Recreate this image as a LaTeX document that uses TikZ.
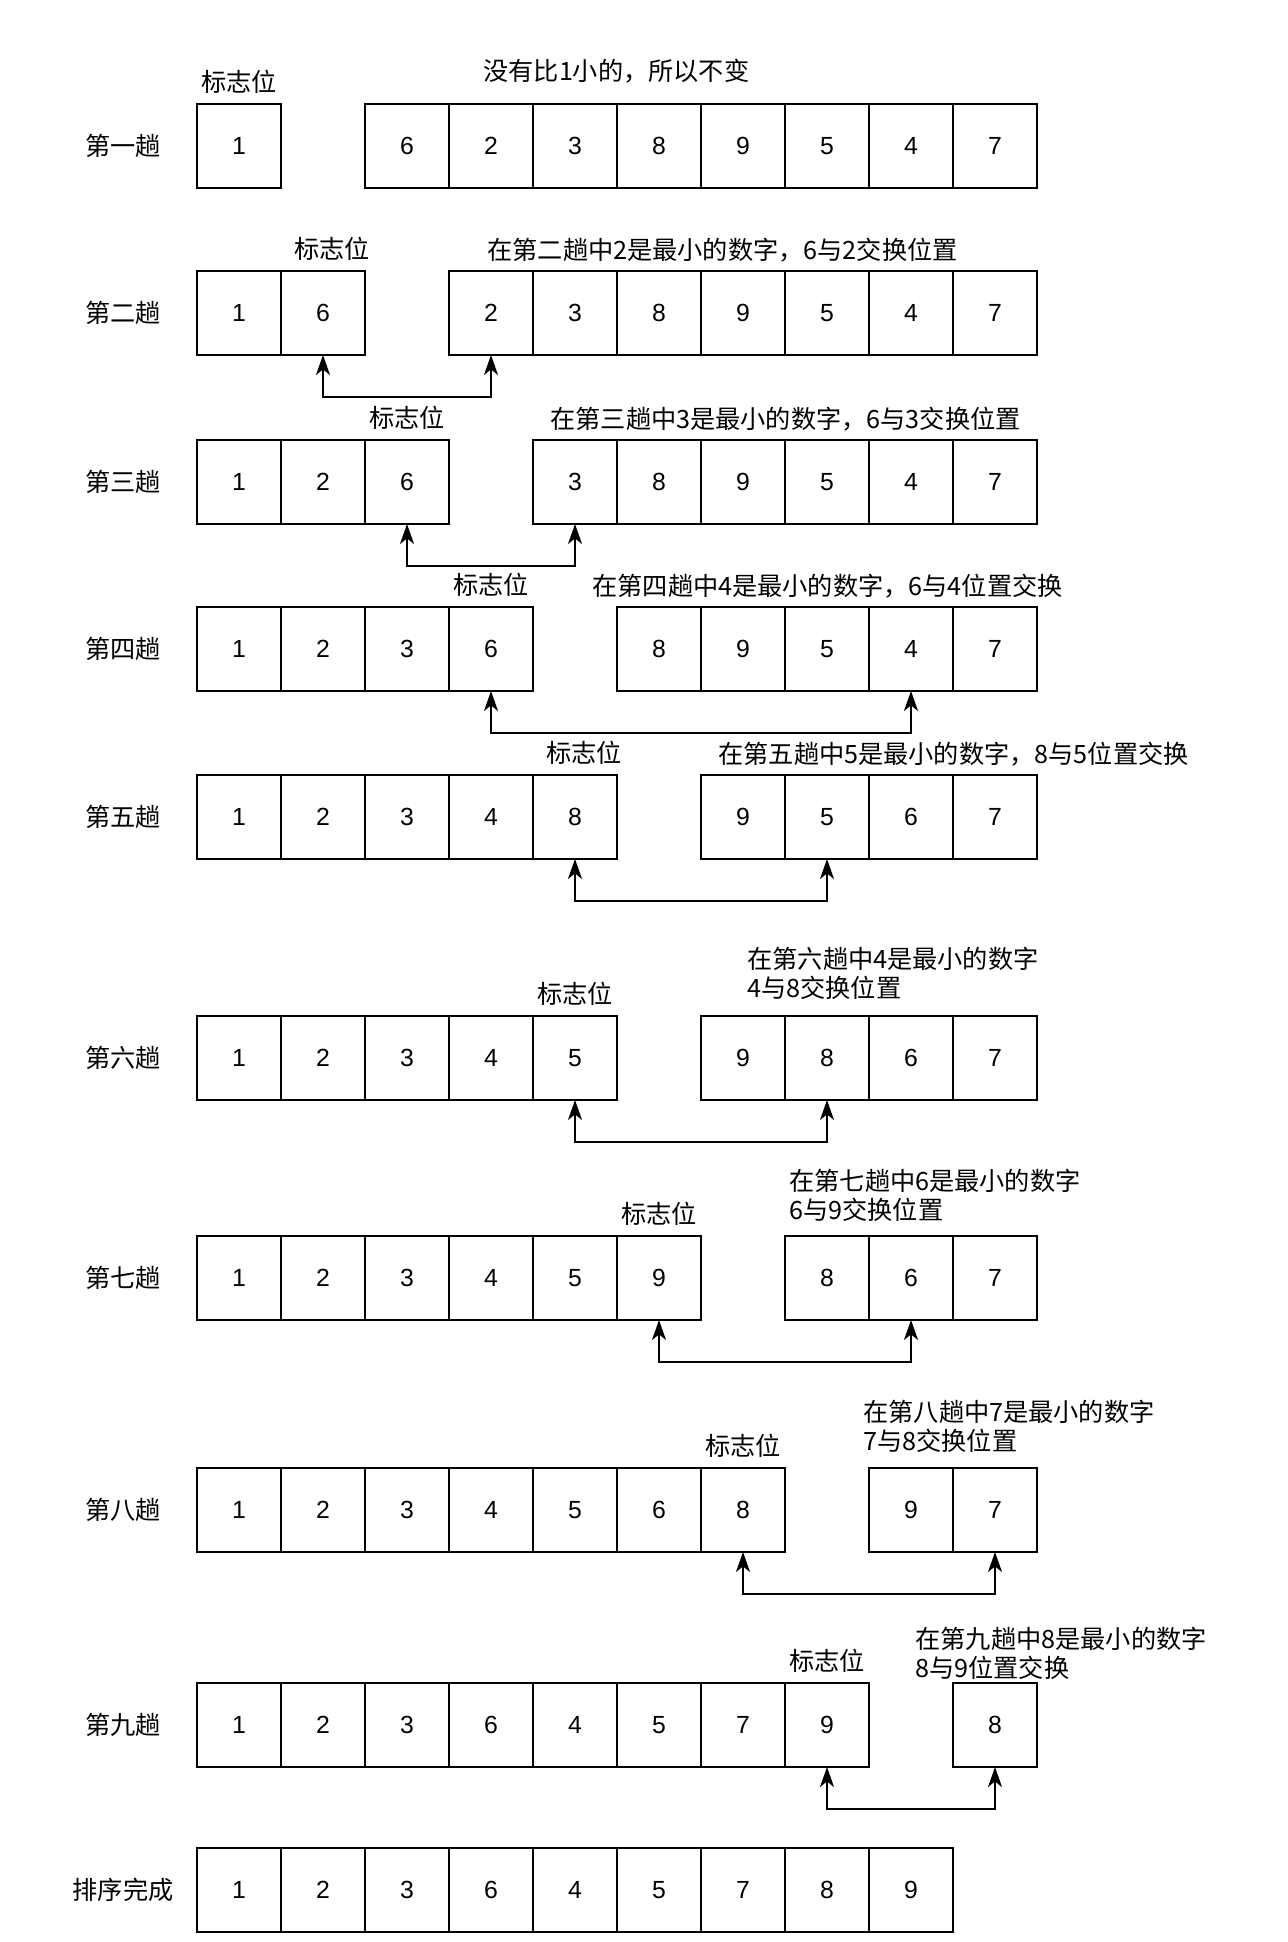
\documentclass[tikz,border=0pt]{standalone}
\usepackage{fontspec}
\setmainfont{Liberation Sans}
\newfontfamily\cjk{Noto Sans CJK SC}
\usepackage{tikz}
\usetikzlibrary{positioning, arrows.meta}

\begin{document}
\begin{tikzpicture}[
        x=0.5pt, y=-0.5pt,
        node distance=0pt,
        cell/.style={
            rectangle, draw=black, line width=1pt, outer sep=0pt, inner sep=0pt,
            minimum width=42pt, minimum height=42pt,
            font=\fontsize{12.4pt}{14pt}\selectfont
        },
        pass/.style={inner sep=0pt, font=\cjk\fontsize{12.6pt}{14.5pt}\selectfont},
        note/.style={pass, anchor=west, align=left},
        swaparrow/.style={<->, line width=1pt, >={Stealth[length=10pt, width=7pt, inset=2.8pt]}}
    ]
        \fill[white] (0,0) rectangle (1287,1942);
        \useasboundingbox (0,0) rectangle (1287,1942);

        % row 1
        \node[pass] (l1) at (123,146) {第一趟};
        \node[cell] (r1c0) at (239,146) {1};
        \node[cell, right=42pt of r1c0] (r1c2) {6};
        \node[cell, right=of r1c2] (r1c3) {2};
        \node[cell, right=of r1c3] (r1c4) {3};
        \node[cell, right=of r1c4] (r1c5) {8};
        \node[cell, right=of r1c5] (r1c6) {9};
        \node[cell, right=of r1c6] (r1c7) {5};
        \node[cell, right=of r1c7] (r1c8) {4};
        \node[cell, right=of r1c8] (r1c9) {7};
        \node[pass, above=5pt of r1c0] (f1) {标志位};
        \node[note] (n1) at (483,71) {没有比1小的，所以不变};

        % row 2
        \node[pass] (l2) at (123,313) {第二趟};
        \node[cell] (r2c0) at (239,313) {1};
        \node[cell, right=of r2c0] (r2c1) {6};
        \node[cell, right=42pt of r2c1] (r2c3) {2};
        \node[cell, right=of r2c3] (r2c4) {3};
        \node[cell, right=of r2c4] (r2c5) {8};
        \node[cell, right=of r2c5] (r2c6) {9};
        \node[cell, right=of r2c6] (r2c7) {5};
        \node[cell, right=of r2c7] (r2c8) {4};
        \node[cell, right=of r2c8] (r2c9) {7};
        \node[pass, above=5pt of r2c1, xshift=4.5pt] (f2) {标志位};
        \node[note] (n2) at (487,250) {在第二趟中2是最小的数字，6与2交换位置};
        \draw[swaparrow] (r2c1.south) -- ++(0,42) -| (r2c3.south);

        % row 3
        \node[pass] (l3) at (123,482) {第三趟};
        \node[cell] (r3c0) at (239,482) {1};
        \node[cell, right=of r3c0] (r3c1) {2};
        \node[cell, right=of r3c1] (r3c2) {6};
        \node[cell, right=42pt of r3c2] (r3c4) {3};
        \node[cell, right=of r3c4] (r3c5) {8};
        \node[cell, right=of r3c5] (r3c6) {9};
        \node[cell, right=of r3c6] (r3c7) {5};
        \node[cell, right=of r3c7] (r3c8) {4};
        \node[cell, right=of r3c8] (r3c9) {7};
        \node[pass, above=5pt of r3c2] (f3) {标志位};
        \node[note] (n3) at (550,419) {在第三趟中3是最小的数字，6与3交换位置};
        \draw[swaparrow] (r3c2.south) -- ++(0,42) -| (r3c4.south);

        % row 4
        \node[pass] (l4) at (123,649) {第四趟};
        \node[cell] (r4c0) at (239,649) {1};
        \node[cell, right=of r4c0] (r4c1) {2};
        \node[cell, right=of r4c1] (r4c2) {3};
        \node[cell, right=of r4c2] (r4c3) {6};
        \node[cell, right=42pt of r4c3] (r4c5) {8};
        \node[cell, right=of r4c5] (r4c6) {9};
        \node[cell, right=of r4c6] (r4c7) {5};
        \node[cell, right=of r4c7] (r4c8) {4};
        \node[cell, right=of r4c8] (r4c9) {7};
        \node[pass, above=5pt of r4c3] (f4) {标志位};
        \node[note] (n4) at (592,586) {在第四趟中4是最小的数字，6与4位置交换};
        \draw[swaparrow] (r4c3.south) -- ++(0,42) -| (r4c8.south);

        % row 5
        \node[pass] (l5) at (123,817) {第五趟};
        \node[cell] (r5c0) at (239,817) {1};
        \node[cell, right=of r5c0] (r5c1) {2};
        \node[cell, right=of r5c1] (r5c2) {3};
        \node[cell, right=of r5c2] (r5c3) {4};
        \node[cell, right=of r5c3] (r5c4) {8};
        \node[cell, right=42pt of r5c4] (r5c6) {9};
        \node[cell, right=of r5c6] (r5c7) {5};
        \node[cell, right=of r5c7] (r5c8) {6};
        \node[cell, right=of r5c8] (r5c9) {7};
        \node[pass, above=5pt of r5c4, xshift=4.5pt] (f5) {标志位};
        \node[note] (n5) at (718,754) {在第五趟中5是最小的数字，8与5位置交换};
        \draw[swaparrow] (r5c4.south) -- ++(0,42) -| (r5c7.south);

        % row 6
        \node[pass] (l6) at (123,1058) {第六趟};
        \node[cell] (r6c0) at (239,1058) {1};
        \node[cell, right=of r6c0] (r6c1) {2};
        \node[cell, right=of r6c1] (r6c2) {3};
        \node[cell, right=of r6c2] (r6c3) {4};
        \node[cell, right=of r6c3] (r6c4) {5};
        \node[cell, right=42pt of r6c4] (r6c6) {9};
        \node[cell, right=of r6c6] (r6c7) {8};
        \node[cell, right=of r6c7] (r6c8) {6};
        \node[cell, right=of r6c8] (r6c9) {7};
        \node[pass, above=5pt of r6c4] (f6) {标志位};
        \node[note] (n6) at (747,973) {在第六趟中4是最小的数字\\4与8交换位置};
        \draw[swaparrow] (r6c4.south) -- ++(0,42) -| (r6c7.south);

        % row 7
        \node[pass] (l7) at (123,1278) {第七趟};
        \node[cell] (r7c0) at (239,1278) {1};
        \node[cell, right=of r7c0] (r7c1) {2};
        \node[cell, right=of r7c1] (r7c2) {3};
        \node[cell, right=of r7c2] (r7c3) {4};
        \node[cell, right=of r7c3] (r7c4) {5};
        \node[cell, right=of r7c4] (r7c5) {9};
        \node[cell, right=42pt of r7c5] (r7c7) {8};
        \node[cell, right=of r7c7] (r7c8) {6};
        \node[cell, right=of r7c8] (r7c9) {7};
        \node[pass, above=5pt of r7c5] (f7) {标志位};
        \node[note] (n7) at (789,1195) {在第七趟中6是最小的数字\\6与9交换位置};
        \draw[swaparrow] (r7c5.south) -- ++(0,42) -| (r7c8.south);

        % row 8
        \node[pass] (l8) at (123,1510) {第八趟};
        \node[cell] (r8c0) at (239,1510) {1};
        \node[cell, right=of r8c0] (r8c1) {2};
        \node[cell, right=of r8c1] (r8c2) {3};
        \node[cell, right=of r8c2] (r8c3) {4};
        \node[cell, right=of r8c3] (r8c4) {5};
        \node[cell, right=of r8c4] (r8c5) {6};
        \node[cell, right=of r8c5] (r8c6) {8};
        \node[cell, right=42pt of r8c6] (r8c8) {9};
        \node[cell, right=of r8c8] (r8c9) {7};
        \node[pass, above=5pt of r8c6] (f8) {标志位};
        \node[note] (n8) at (863,1426) {在第八趟中7是最小的数字\\7与8交换位置};
        \draw[swaparrow] (r8c6.south) -- ++(0,42) -| (r8c9.south);

        % row 9
        \node[pass] (l9) at (123,1725) {第九趟};
        \node[cell] (r9c0) at (239,1725) {1};
        \node[cell, right=of r9c0] (r9c1) {2};
        \node[cell, right=of r9c1] (r9c2) {3};
        \node[cell, right=of r9c2] (r9c3) {6};
        \node[cell, right=of r9c3] (r9c4) {4};
        \node[cell, right=of r9c4] (r9c5) {5};
        \node[cell, right=of r9c5] (r9c6) {7};
        \node[cell, right=of r9c6] (r9c7) {9};
        \node[cell, right=42pt of r9c7] (r9c9) {8};
        \node[pass, above=5pt of r9c7] (f9) {标志位};
        \node[note] (n9) at (915,1653) {在第九趟中8是最小的数字\\8与9位置交换};
        \draw[swaparrow] (r9c7.south) -- ++(0,42) -| (r9c9.south);

        % sorted
        \node[pass] (l10) at (123,1890) {排序完成};
        \node[cell] (r10c0) at (239,1890) {1};
        \node[cell, right=of r10c0] (r10c1) {2};
        \node[cell, right=of r10c1] (r10c2) {3};
        \node[cell, right=of r10c2] (r10c3) {6};
        \node[cell, right=of r10c3] (r10c4) {4};
        \node[cell, right=of r10c4] (r10c5) {5};
        \node[cell, right=of r10c5] (r10c6) {7};
        \node[cell, right=of r10c6] (r10c7) {8};
        \node[cell, right=of r10c7] (r10c8) {9};
    \end{tikzpicture}
\end{document}
